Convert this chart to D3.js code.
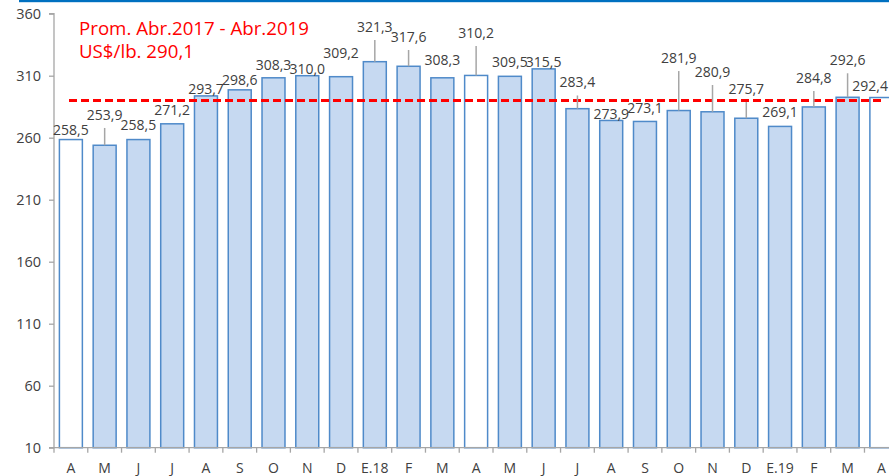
<!DOCTYPE html>
<html>
<head>
<meta charset="utf-8">
<script src="https://cdn.jsdelivr.net/npm/d3@7/dist/d3.min.js"></script>
<style>
  html, body { margin: 0; padding: 0; background: #fff; overflow: hidden; }
  svg { display: block; }
</style>
</head>
<body>
<svg id="chart" width="889" height="476"></svg>
<script>
// ---- data ----
const categories = ["A","M","J","J","A","S","O","N","D","E.18","F","M","A","M","J","J","A","S","O","N","D","E.19","F","M","A"];
const values = [258.5,253.9,258.5,271.2,293.7,298.6,308.3,310.0,309.2,321.3,317.6,308.3,310.2,309.5,315.5,283.4,273.9,273.1,281.9,280.9,275.7,269.1,284.8,292.6,292.4];
const highlighted = [true,false,false,false,false,false,false,false,false,false,false,false,true,false,false,false,false,false,false,false,false,false,false,false,true];
const average = 290.1;
const yTicks = [10,60,110,160,210,260,310,360];
const titleLines = ["Prom. Abr.2017 - Abr.2019", "US$/lb. 290,1"];

// ---- layout (label lift above bar top, px) ----
const labelLift = [9.6,30.3,14.6,13.8,6.9,9.8,12.8,6.7,23.7,34.7,29.3,17.8,42.4,14.3,6.8,26.2,6.5,13.5,52.5,39.8,29.2,14.3,29,37,11.2];
const leader = [false,true,false,false,false,false,false,false,false,true,true,false,true,false,false,true,false,false,true,true,true,false,true,true,false];

const W = 889;
const svg = d3.select("#chart");
const x0 = 54, yTop = 13.7, yBot = 447.7;
const step = 33.77;

const x = d3.scaleBand()
  .domain(d3.range(categories.length))
  .range([x0, x0 + step * categories.length])
  .paddingInner(0.32)
  .paddingOuter(0.16);

const y = d3.scaleLinear().domain([10, 360]).range([yBot, yTop]);

const fmt = v => d3.format(".1f")(v).replace(".", ",");
const textColor = "#404040";
const font = "'Open Sans', 'Liberation Sans', sans-serif";

// top blue rule
svg.append("rect").attr("x", 19).attr("y", 0).attr("width", W - 19).attr("height", 2.2).attr("fill", "#0070c0");

// bars
svg.append("g").selectAll("rect").data(values).join("rect")
  .attr("x", (d, i) => x(i))
  .attr("y", d => y(d))
  .attr("width", x.bandwidth())
  .attr("height", d => y(10) - y(d))
  .attr("fill", (d, i) => highlighted[i] ? "#ffffff" : "#c6d9f1")
  .attr("stroke", "#4f8ac9")
  .attr("stroke-width", 1.5);

// y axis
const yAxis = d3.axisLeft(y).tickValues(yTicks).tickSize(5).tickPadding(8).tickFormat(d3.format("d"));
const gy = svg.append("g").attr("transform", `translate(${x0},0)`).call(yAxis);
gy.select(".domain").attr("stroke", "#a6a6a6").attr("stroke-width", 1.3).attr("d", `M-5,${yTop}H0V${yBot}H-5`);
gy.selectAll(".tick line").attr("stroke", "#a6a6a6").attr("stroke-width", 1.3);
gy.selectAll(".tick text").attr("fill", textColor).style("font-family", font).style("font-size", "14.5px");

// x axis
const gx = svg.append("g").attr("transform", `translate(0,${yBot})`);
gx.append("line").attr("x1", x0).attr("x2", 900).attr("y1", 0).attr("y2", 0)
  .attr("stroke", "#a6a6a6").attr("stroke-width", 1.3);
gx.selectAll("line.tk").data(d3.range(categories.length)).join("line").attr("class", "tk")
  .attr("x1", i => x0 + x.step() * i).attr("x2", i => x0 + x.step() * i)
  .attr("y1", 0).attr("y2", 5).attr("stroke", "#a6a6a6").attr("stroke-width", 1.3);
gx.selectAll("text").data(categories).join("text")
  .attr("x", (d, i) => x(i) + x.bandwidth() / 2)
  .attr("y", 20)
  .attr("dy", "0.35em")
  .attr("text-anchor", "middle")
  .attr("fill", textColor)
  .style("font-family", font).style("font-size", "14px")
  .text(d => d);

// average line
svg.append("line")
  .attr("x1", 69).attr("x2", 884)
  .attr("y1", y(average)).attr("y2", y(average))
  .attr("stroke", "#ff0000").attr("stroke-width", 3)
  .attr("stroke-dasharray", "8,4");

// leader lines
svg.append("g").selectAll("line").data(values.map((v, i) => ({v, i})).filter(d => leader[d.i])).join("line")
  .attr("x1", d => x(d.i) + x.bandwidth() / 2).attr("x2", d => x(d.i) + x.bandwidth() / 2)
  .attr("y1", d => y(d.v) - labelLift[d.i] + 13)
  .attr("y2", d => y(d.v))
  .attr("stroke", "#a6a6a6").attr("stroke-width", 1.5);

// value labels
const labels = svg.append("g").selectAll("text").data(values).join("text")
  .attr("x", (d, i) => x(i) + x.bandwidth() / 2)
  .attr("y", (d, i) => y(d) - labelLift[i])
  .attr("dy", "0.35em")
  .attr("text-anchor", "middle")
  .attr("fill", textColor)
  .style("font-family", font).style("font-size", "14px")
  .text(d => fmt(d));
// keep labels inside the visible window
labels.each(function() {
  const w = this.getComputedTextLength();
  const cx = +this.getAttribute("x");
  if (cx + w / 2 > W - 1) this.setAttribute("x", W - 1 - w / 2);
});

// title text
svg.append("g").selectAll("text").data(titleLines).join("text")
  .attr("x", 79).attr("y", (d, i) => 35 + i * 23)
  .attr("fill", "#ff0000")
  .style("font-family", font).style("font-size", "18.7px")
  .text(d => d);
</script>
</body>
</html>
